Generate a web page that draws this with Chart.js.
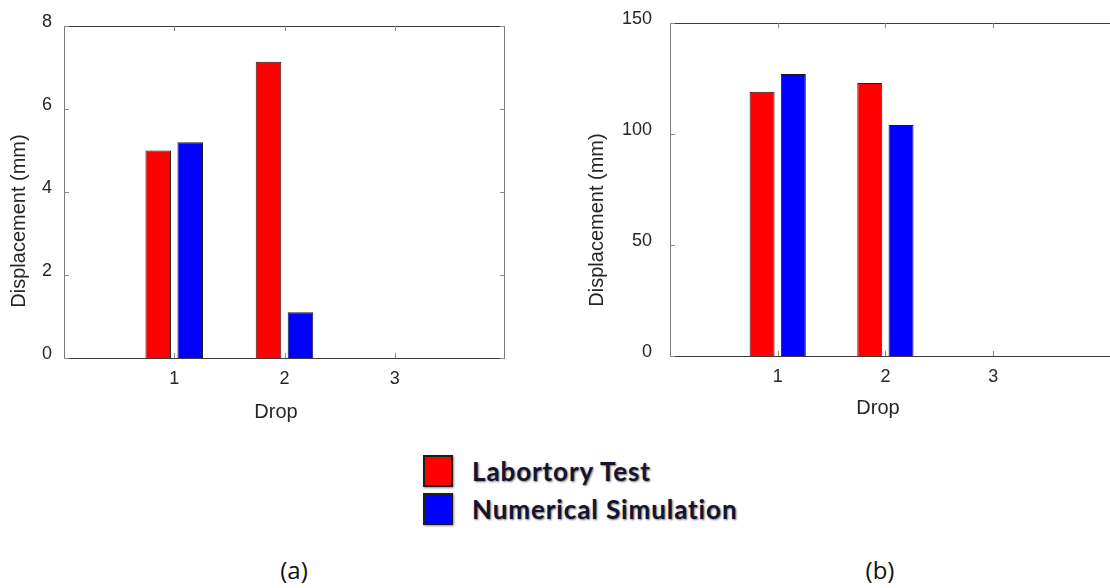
<!DOCTYPE html>
<html>
<head>
<meta charset="utf-8">
<script src="https://cdn.jsdelivr.net/npm/chart.js@4.4.1/dist/chart.umd.min.js"></script>
<style>
    html, body { margin: 0; padding: 0; background: #fff; }
    body { width: 1110px; height: 588px; position: relative; overflow: hidden; }
    .panel { position: absolute; top: 0; width: 540px; height: 430px; }
    #panelA { left: 0; }
    #panelB { left: 570px; }
    .legend { position: absolute; left: 423px; top: 452px; }
    .legend-row { display: flex; align-items: center; height: 38px; }
    .swatch { width: 26px; height: 28px; border: 2px solid #1e1e1e; box-shadow: 1px 1px 2px rgba(0,0,0,0.45); margin-right: 19px; }
    .legend-text { font-family: Lato, "Open Sans", sans-serif; font-weight: bold; font-size: 26px; letter-spacing: 0.9px; color: #14142e; text-shadow: 1px 1px 2px rgba(0,0,0,0.55); }
    .sub { position: absolute; top: 553px; font-family: "Open Sans", sans-serif; font-size: 24px; color: #111; transform: translateX(-50%); }
</style>
</head>
<body>
<div class="panel" id="panelA"><canvas id="chartA"></canvas></div>
<div class="panel" id="panelB"><canvas id="chartB"></canvas></div>

<div class="legend">
    <div class="legend-row"><div class="swatch" style="background:#ff0000"></div><span class="legend-text">Labortory Test</span></div>
    <div class="legend-row"><div class="swatch" style="background:#0000ff"></div><span class="legend-text">Numerical Simulation</span></div>
</div>
<div class="sub" style="left:294px">(a)</div>
<div class="sub" style="left:880px">(b)</div>

<script>
const drops = [1, 2, 3];
const seriesNames = ['Labortory Test', 'Numerical Simulation'];

const labDispA = [5.0, 7.14, 0];
const numDispA = [5.2, 1.1, 0];
const yTicksA = [0, 2, 4, 6, 8];

const labDispB = [119, 123, 0];
const numDispB = [127, 104, 0];
const yTicksB = [0, 50, 100, 150];

const RED = '#ff0000';
const BLUE = '#0000ff';
const TEXT = '#262626';

// matlab style box: frame, inward ticks, axis titles
const matlabFrame = {
    id: 'matlabFrame',
    afterDraw(chart, args, opts) {
        const { ctx, chartArea: a } = chart;
        const x = chart.scales.x;
        const y = chart.scales.y;
        const len = 5;

        ctx.save();
        ctx.lineWidth = 1;
        ctx.strokeStyle = '#3c3c3c';
        ctx.beginPath();
        ctx.moveTo(a.left + 0.5, a.top + 0.5);
        ctx.lineTo(a.right, a.top + 0.5);
        ctx.moveTo(a.left, a.bottom + 0.5);
        ctx.lineTo(a.right, a.bottom + 0.5);
        ctx.stroke();

        ctx.strokeStyle = '#7a7a7a';
        ctx.beginPath();
        ctx.moveTo(a.left + 0.5, a.top);
        ctx.lineTo(a.left + 0.5, a.bottom + 1);
        if (opts.right) {
            ctx.moveTo(a.right - 0.5, a.top);
            ctx.lineTo(a.right - 0.5, a.bottom + 1);
        }
        ctx.stroke();

        ctx.strokeStyle = '#8a8a8a';
        ctx.beginPath();
        x.ticks.forEach(t => {
            const px = Math.round(x.getPixelForValue(t.value)) + 0.5;
            ctx.moveTo(px, a.bottom);
            ctx.lineTo(px, a.bottom - len);
            ctx.moveTo(px, a.top);
            ctx.lineTo(px, a.top + len);
        });
        y.ticks.forEach(t => {
            const py = Math.round(y.getPixelForValue(t.value)) + 0.5;
            ctx.moveTo(a.left, py);
            ctx.lineTo(a.left + len, py);
            if (opts.right) {
                ctx.moveTo(a.right, py);
                ctx.lineTo(a.right - len, py);
            }
        });
        ctx.stroke();

        ctx.fillStyle = TEXT;
        ctx.font = '20px "Liberation Sans", Arial, sans-serif';
        ctx.textAlign = 'center';
        ctx.textBaseline = 'middle';
        ctx.fillText(opts.xTitle, opts.xTitlePos[0], opts.xTitlePos[1]);

        ctx.translate(opts.yTitlePos[0], opts.yTitlePos[1]);
        ctx.rotate(-Math.PI / 2);
        ctx.fillText(opts.yTitle, 0, 0);
        ctx.restore();
    }
};

function makeChart(canvasId, labVals, numVals, yTicks, geom) {
    const ctx = document.getElementById(canvasId).getContext('2d');
    const toPoints = vals => drops.map((d, i) => ({ x: d, y: vals[i] }));

    return new Chart(ctx, {
        type: 'bar',
        data: {
            datasets: [
                {
                    label: seriesNames[0],
                    data: toPoints(labVals),
                    backgroundColor: RED,
                    borderColor: '#1a1a1a',
                    borderWidth: 1,
                    borderSkipped: 'bottom'
                },
                {
                    label: seriesNames[1],
                    data: toPoints(numVals),
                    backgroundColor: BLUE,
                    borderColor: '#1a1a1a',
                    borderWidth: 1,
                    borderSkipped: 'bottom'
                }
            ]
        },
        options: {
            responsive: true,
            maintainAspectRatio: false,
            animation: false,
            categoryPercentage: 0.58,
            barPercentage: 0.8,
            layout: { padding: geom.padding },
            scales: {
                x: {
                    type: 'linear',
                    offset: false,
                    min: 0,
                    max: geom.xMax,
                    afterBuildTicks: s => { s.ticks = drops.map(v => ({ value: v })); },
                    afterFit: s => { s.height = geom.xHeight; },
                    grid: { display: false, drawTicks: false },
                    border: { display: false },
                    ticks: {
                        padding: 10,
                        color: TEXT,
                        font: { family: '"Liberation Sans", Arial, sans-serif', size: 18 }
                    }
                },
                y: {
                    min: yTicks[0],
                    max: yTicks[yTicks.length - 1],
                    afterBuildTicks: s => { s.ticks = yTicks.map(v => ({ value: v })); },
                    afterFit: s => {
                        s.width = geom.yWidth;
                        // let layout padding alone decide the plot top/bottom
                        s.paddingTop = 0;
                        s.paddingBottom = 0;
                    },
                    grid: { display: false, drawTicks: false },
                    border: { display: false },
                    ticks: {
                        padding: geom.yPad,
                        labelOffset: -4,
                        color: TEXT,
                        font: { family: '"Liberation Sans", Arial, sans-serif', size: 18 }
                    }
                }
            },
            plugins: {
                legend: { display: false },
                tooltip: { enabled: false },
                matlabFrame: {
                    right: geom.right,
                    xTitle: 'Drop',
                    yTitle: 'Displacement (mm)',
                    xTitlePos: geom.xTitlePos,
                    yTitlePos: geom.yTitlePos
                }
            }
        },
        plugins: [matlabFrame]
    });
}

makeChart('chartA', labDispA, numDispA, yTicksA, {
    padding: { left: 0, top: 26, right: 35, bottom: 0 },
    yWidth: 64,
    yPad: 12,
    xHeight: 72,
    xMax: 4,
    right: true,
    xTitlePos: [276, 412],
    yTitlePos: [19, 221]
});

makeChart('chartB', labDispB, numDispB, yTicksB, {
    padding: { left: 0, top: 23, right: 0, bottom: 0 },
    yWidth: 100,
    yPad: 18,
    xHeight: 74,
    xMax: 4.085,
    right: false,
    xTitlePos: [308, 408],
    yTitlePos: [27, 220]
});
</script>
</body>
</html>
